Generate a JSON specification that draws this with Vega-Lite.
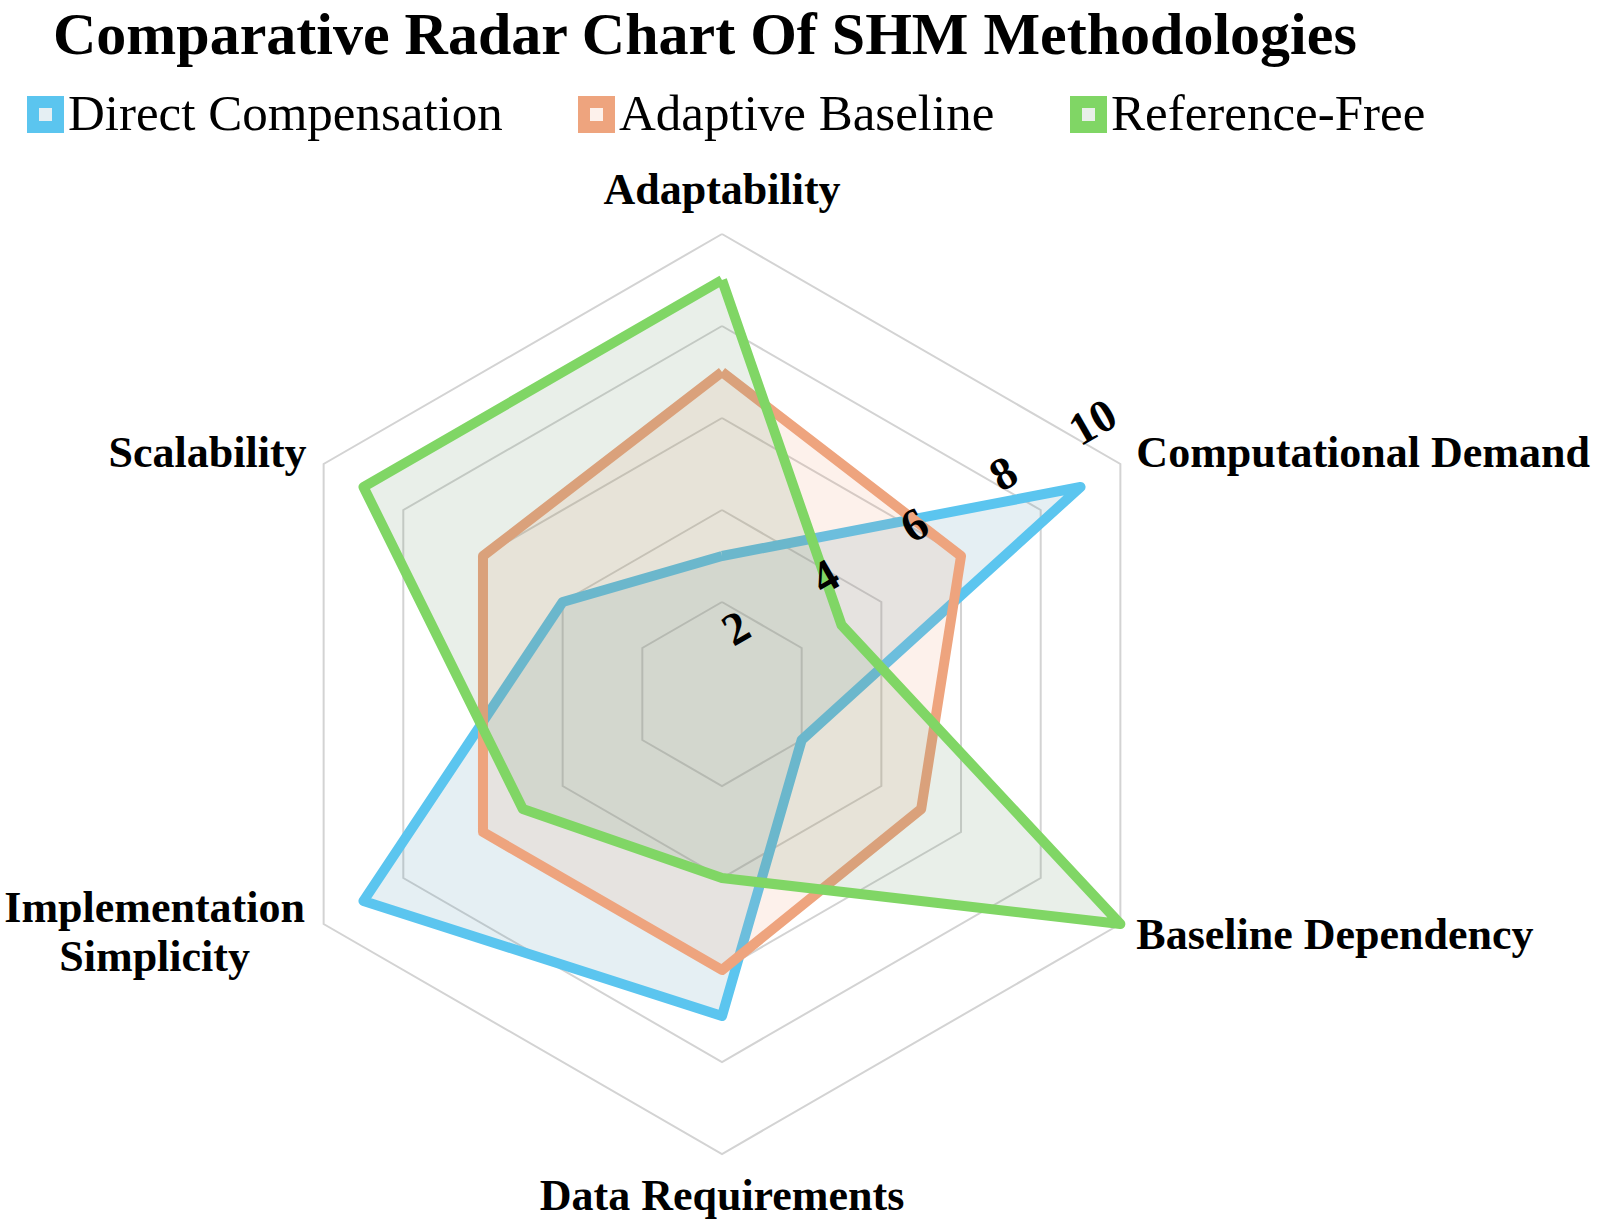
{
  "$schema": "https://vega.github.io/schema/vega-lite/v6.json",
  "width": 1600,
  "height": 1226,
  "autosize": {"type": "none"},
  "padding": 0,
  "background": "white",
  "title": {
    "text": "Comparative Radar Chart Of SHM Methodologies",
    "anchor": "start",
    "frame": "group",
    "offset": -67,
    "dx": 53,
    "font": "Liberation Serif",
    "fontSize": 60,
    "fontWeight": "bold",
    "color": "#000000"
  },
  "datasets": {
    "scores": [
      {"method": "Direct Compensation", "axis": "Adaptability", "k": 0, "value": 3},
      {"method": "Direct Compensation", "axis": "Computational Demand", "k": 1, "value": 9},
      {"method": "Direct Compensation", "axis": "Baseline Dependency", "k": 2, "value": 2},
      {"method": "Direct Compensation", "axis": "Data Requirements", "k": 3, "value": 7},
      {"method": "Direct Compensation", "axis": "Implementation Simplicity", "k": 4, "value": 9},
      {"method": "Direct Compensation", "axis": "Scalability", "k": 5, "value": 4},
      {"method": "Direct Compensation", "axis": "Adaptability", "k": 6, "value": 3},
      {"method": "Adaptive Baseline", "axis": "Adaptability", "k": 0, "value": 7},
      {"method": "Adaptive Baseline", "axis": "Computational Demand", "k": 1, "value": 6},
      {"method": "Adaptive Baseline", "axis": "Baseline Dependency", "k": 2, "value": 5},
      {"method": "Adaptive Baseline", "axis": "Data Requirements", "k": 3, "value": 6},
      {"method": "Adaptive Baseline", "axis": "Implementation Simplicity", "k": 4, "value": 6},
      {"method": "Adaptive Baseline", "axis": "Scalability", "k": 5, "value": 6},
      {"method": "Adaptive Baseline", "axis": "Adaptability", "k": 6, "value": 7},
      {"method": "Reference-Free", "axis": "Adaptability", "k": 0, "value": 9},
      {"method": "Reference-Free", "axis": "Computational Demand", "k": 1, "value": 3},
      {"method": "Reference-Free", "axis": "Baseline Dependency", "k": 2, "value": 10},
      {"method": "Reference-Free", "axis": "Data Requirements", "k": 3, "value": 4},
      {"method": "Reference-Free", "axis": "Implementation Simplicity", "k": 4, "value": 5},
      {"method": "Reference-Free", "axis": "Scalability", "k": 5, "value": 9},
      {"method": "Reference-Free", "axis": "Adaptability", "k": 6, "value": 9}
    ],
    "axes": [
      {"axis": "Adaptability", "k": 0},
      {"axis": "Computational Demand", "k": 1},
      {"axis": "Baseline Dependency", "k": 2},
      {"axis": "Data Requirements", "k": 3},
      {"axis": "Implementation Simplicity", "k": 4},
      {"axis": "Scalability", "k": 5}
    ],
    "levels": [
      {"level": 2, "k": [0, 1, 2, 3, 4, 5, 6]},
      {"level": 4, "k": [0, 1, 2, 3, 4, 5, 6]},
      {"level": 6, "k": [0, 1, 2, 3, 4, 5, 6]},
      {"level": 8, "k": [0, 1, 2, 3, 4, 5, 6]},
      {"level": 10, "k": [0, 1, 2, 3, 4, 5, 6]}
    ],
    "ticks": [
      {"v": 2}, {"v": 4}, {"v": 6}, {"v": 8}, {"v": 10}
    ]
  },
  "layer": [
    {
      "data": {"name": "levels"},
      "transform": [
        {"flatten": ["k"]},
        {"calculate": "datum.level * sin(datum.k * PI / 3)", "as": "px"},
        {"calculate": "datum.level * cos(datum.k * PI / 3)", "as": "py"}
      ],
      "mark": {"type": "line", "stroke": "#d3d3d3", "strokeWidth": 2},
      "encoding": {
        "x": {"field": "px", "type": "quantitative", "scale": {"domain": [-15.6957, 19.087], "nice": false, "zero": false}, "axis": null},
        "y": {"field": "py", "type": "quantitative", "scale": {"domain": [-11.5652, 15.087], "nice": false, "zero": false}, "axis": null},
        "detail": {"field": "level", "type": "nominal"},
        "order": {"field": "k", "type": "quantitative"}
      }
    },
    {
      "data": {"name": "scores"},
      "transform": [
        {"calculate": "datum.value * sin(datum.k * PI / 3)", "as": "px"},
        {"calculate": "datum.value * cos(datum.k * PI / 3)", "as": "py"}
      ],
      "mark": {"type": "line", "strokeWidth": 10, "strokeJoin": "round"},
      "encoding": {
        "x": {"field": "px", "type": "quantitative", "scale": {"domain": [-15.6957, 19.087], "nice": false, "zero": false}, "axis": null},
        "y": {"field": "py", "type": "quantitative", "scale": {"domain": [-11.5652, 15.087], "nice": false, "zero": false}, "axis": null},
        "order": {"field": "k", "type": "quantitative"},
        "color": {
          "field": "method",
          "type": "nominal",
          "scale": {
            "domain": ["Direct Compensation", "Adaptive Baseline", "Reference-Free"],
            "range": ["#5bc5ef", "#eea47e", "#80d665"]
          },
          "legend": {
            "orient": "none",
            "legendX": 20,
            "legendY": 89,
            "direction": "horizontal",
            "title": null,
            "padding": 0,
            "symbolType": "square",
            "symbolSize": 625,
            "symbolStrokeWidth": 12,
            "symbolFillColor": "#e8e8ec",
            "labelFont": "Liberation Serif",
            "labelFontSize": 51,
            "labelColor": "#000000",
            "labelOffset": -3,
            "labelLimit": 0,
            "columnPadding": 57
          }
        },
        "fill": {
          "field": "method",
          "type": "nominal",
          "scale": {
            "domain": ["Direct Compensation", "Adaptive Baseline", "Reference-Free"],
            "range": ["rgba(70,140,170,0.14)", "rgba(240,140,90,0.12)", "rgba(110,150,110,0.15)"]
          },
          "legend": null
        }
      }
    },
    {
      "data": {"name": "axes"},
      "transform": [
        {"filter": "datum.axis === 'Adaptability'"},
        {"calculate": "10 * sin(datum.k * PI / 3)", "as": "px"},
        {"calculate": "10 * cos(datum.k * PI / 3)", "as": "py"}
      ],
      "mark": {"type": "text", "font": "Liberation Serif", "fontSize": 44, "fontWeight": "bold", "color": "#000000", "align": "center", "baseline": "alphabetic", "dy": -30},
      "encoding": {
        "x": {"field": "px", "type": "quantitative", "scale": {"domain": [-15.6957, 19.087], "nice": false, "zero": false}, "axis": null},
        "y": {"field": "py", "type": "quantitative", "scale": {"domain": [-11.5652, 15.087], "nice": false, "zero": false}, "axis": null},
        "text": {"field": "axis", "type": "nominal"}
      }
    },
    {
      "data": {"name": "axes"},
      "transform": [
        {"filter": "datum.axis === 'Computational Demand'"},
        {"calculate": "10 * sin(datum.k * PI / 3)", "as": "px"},
        {"calculate": "10 * cos(datum.k * PI / 3)", "as": "py"}
      ],
      "mark": {"type": "text", "font": "Liberation Serif", "fontSize": 44, "fontWeight": "bold", "color": "#000000", "align": "left", "baseline": "alphabetic", "dx": 16, "dy": 3},
      "encoding": {
        "x": {"field": "px", "type": "quantitative", "scale": {"domain": [-15.6957, 19.087], "nice": false, "zero": false}, "axis": null},
        "y": {"field": "py", "type": "quantitative", "scale": {"domain": [-11.5652, 15.087], "nice": false, "zero": false}, "axis": null},
        "text": {"field": "axis", "type": "nominal"}
      }
    },
    {
      "data": {"name": "axes"},
      "transform": [
        {"filter": "datum.axis === 'Baseline Dependency'"},
        {"calculate": "10 * sin(datum.k * PI / 3)", "as": "px"},
        {"calculate": "10 * cos(datum.k * PI / 3)", "as": "py"}
      ],
      "mark": {"type": "text", "font": "Liberation Serif", "fontSize": 44, "fontWeight": "bold", "color": "#000000", "align": "left", "baseline": "alphabetic", "dx": 16, "dy": 25},
      "encoding": {
        "x": {"field": "px", "type": "quantitative", "scale": {"domain": [-15.6957, 19.087], "nice": false, "zero": false}, "axis": null},
        "y": {"field": "py", "type": "quantitative", "scale": {"domain": [-11.5652, 15.087], "nice": false, "zero": false}, "axis": null},
        "text": {"field": "axis", "type": "nominal"}
      }
    },
    {
      "data": {"name": "axes"},
      "transform": [
        {"filter": "datum.axis === 'Data Requirements'"},
        {"calculate": "10 * sin(datum.k * PI / 3)", "as": "px"},
        {"calculate": "10 * cos(datum.k * PI / 3)", "as": "py"}
      ],
      "mark": {"type": "text", "font": "Liberation Serif", "fontSize": 44, "fontWeight": "bold", "color": "#000000", "align": "center", "baseline": "alphabetic", "dy": 56},
      "encoding": {
        "x": {"field": "px", "type": "quantitative", "scale": {"domain": [-15.6957, 19.087], "nice": false, "zero": false}, "axis": null},
        "y": {"field": "py", "type": "quantitative", "scale": {"domain": [-11.5652, 15.087], "nice": false, "zero": false}, "axis": null},
        "text": {"field": "axis", "type": "nominal"}
      }
    },
    {
      "data": {"name": "axes"},
      "transform": [
        {"filter": "datum.axis === 'Implementation Simplicity'"},
        {"calculate": "10 * sin(datum.k * PI / 3)", "as": "px"},
        {"calculate": "10 * cos(datum.k * PI / 3)", "as": "py"}
      ],
      "mark": {"type": "text", "font": "Liberation Serif", "fontSize": 44, "fontWeight": "bold", "color": "#000000", "align": "center", "baseline": "alphabetic", "dx": -169, "dy": -2, "lineBreak": " ", "lineHeight": 49},
      "encoding": {
        "x": {"field": "px", "type": "quantitative", "scale": {"domain": [-15.6957, 19.087], "nice": false, "zero": false}, "axis": null},
        "y": {"field": "py", "type": "quantitative", "scale": {"domain": [-11.5652, 15.087], "nice": false, "zero": false}, "axis": null},
        "text": {"field": "axis", "type": "nominal"}
      }
    },
    {
      "data": {"name": "axes"},
      "transform": [
        {"filter": "datum.axis === 'Scalability'"},
        {"calculate": "10 * sin(datum.k * PI / 3)", "as": "px"},
        {"calculate": "10 * cos(datum.k * PI / 3)", "as": "py"}
      ],
      "mark": {"type": "text", "font": "Liberation Serif", "fontSize": 44, "fontWeight": "bold", "color": "#000000", "align": "right", "baseline": "alphabetic", "dx": -17, "dy": 3},
      "encoding": {
        "x": {"field": "px", "type": "quantitative", "scale": {"domain": [-15.6957, 19.087], "nice": false, "zero": false}, "axis": null},
        "y": {"field": "py", "type": "quantitative", "scale": {"domain": [-11.5652, 15.087], "nice": false, "zero": false}, "axis": null},
        "text": {"field": "axis", "type": "nominal"}
      }
    },
    {
      "data": {"name": "ticks"},
      "transform": [
        {"calculate": "1.1196 * datum.v - 1.261", "as": "u"},
        {"calculate": "datum.u * 0.8660 - 0.5326", "as": "px"},
        {"calculate": "datum.u * 0.5 + 0.9224", "as": "py"}
      ],
      "mark": {"type": "text", "font": "Liberation Serif", "fontSize": 46, "fontWeight": "bold", "color": "#000000", "align": "center", "baseline": "middle", "angle": -30},
      "encoding": {
        "x": {"field": "px", "type": "quantitative", "scale": {"domain": [-15.6957, 19.087], "nice": false, "zero": false}, "axis": null},
        "y": {"field": "py", "type": "quantitative", "scale": {"domain": [-11.5652, 15.087], "nice": false, "zero": false}, "axis": null},
        "text": {"field": "v", "type": "quantitative"}
      }
    }
  ],
  "config": {"view": {"stroke": null}}
}
